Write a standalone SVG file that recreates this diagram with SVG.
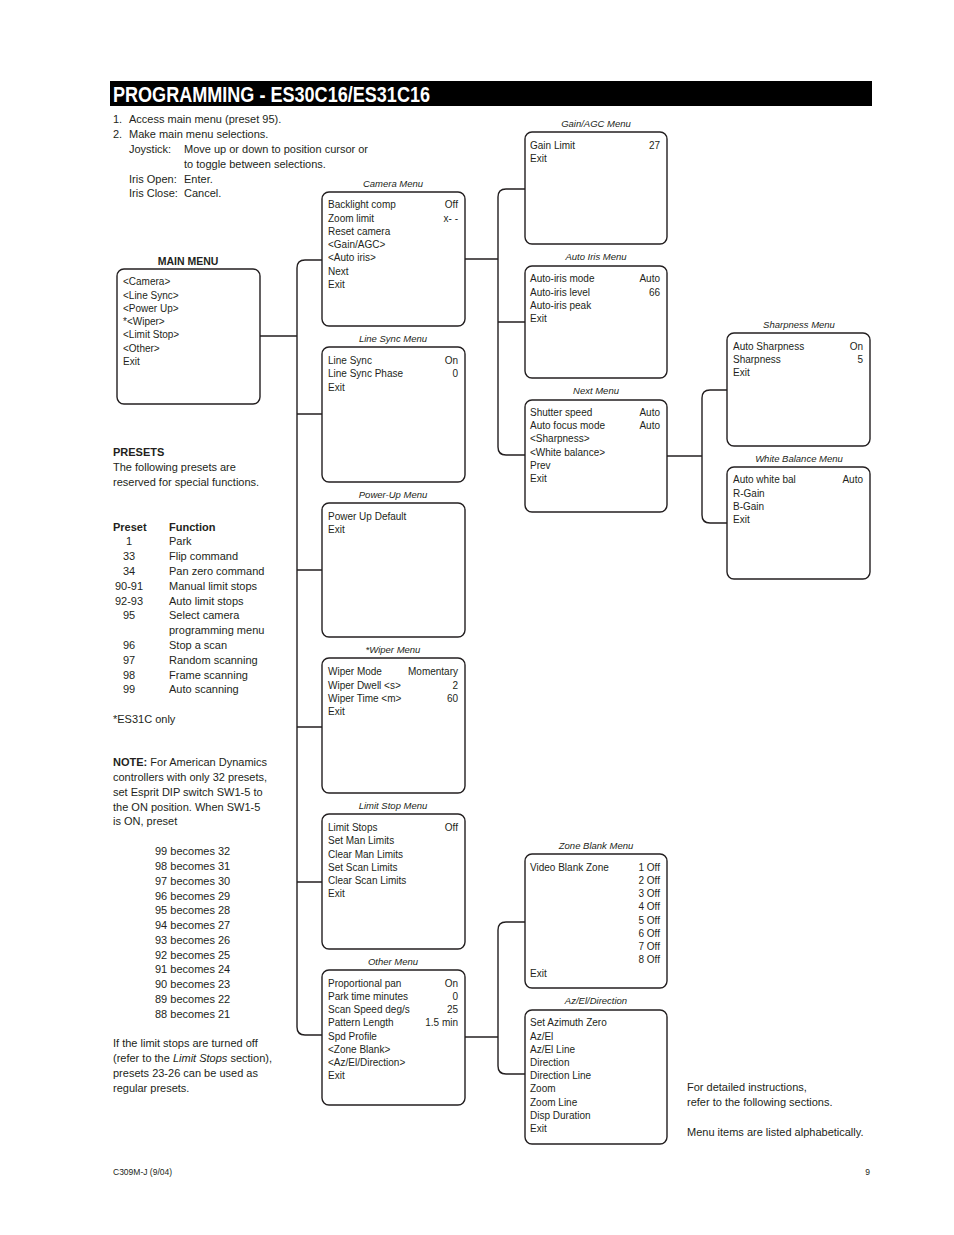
<svg xmlns="http://www.w3.org/2000/svg" width="954" height="1235" viewBox="0 0 954 1235">
<style>
text{font-family:"Liberation Sans",Arial,sans-serif;fill:#231f20}
.b{font-size:11px}
.bb{font-size:11px;font-weight:bold}
.pn{font-size:11px;text-anchor:middle}
.m{font-size:10px}
.r{font-size:10px;text-anchor:end}
.lbl{font-size:9.5px;font-style:italic;text-anchor:middle}
.box{fill:#fff;stroke:#231f20;stroke-width:1.4}
.con{fill:none;stroke:#231f20;stroke-width:1.4}
.ft{font-size:8.5px}
</style>
<rect width="954" height="1235" fill="#fff"/>
<g id="title">
<rect x="110" y="81" width="762" height="25" fill="#000"/>
<text x="113" y="102" style="font-size:22px;font-weight:bold;fill:#fff" textLength="317" lengthAdjust="spacingAndGlyphs">PROGRAMMING - ES30C16/ES31C16</text>
</g>
<g id="instructions">
<text class="b" x="113" y="123">1.</text><text class="b" x="129" y="123">Access main menu (preset 95).</text>
<text class="b" x="113" y="138">2.</text><text class="b" x="129" y="138">Make main menu selections.</text>
<text class="b" x="129" y="153">Joystick:</text><text class="b" x="184" y="153">Move up or down to position cursor or</text>
<text class="b" x="184" y="168">to toggle between selections.</text>
<text class="b" x="129" y="183">Iris Open:</text><text class="b" x="184" y="183">Enter.</text>
<text class="b" x="129" y="197">Iris Close:</text><text class="b" x="184" y="197">Cancel.</text>
</g>
<g id="connectors">
<path class="con" d="M322,260 H305 Q297,260 297,268 V1027 Q297,1035 305,1035 H322"/>
<path class="con" d="M260,336 H297 M297,414 H322 M297,570 H322 M297,727 H322 M297,882 H322"/>
<path class="con" d="M525,189 H506 Q498,189 498,197 V447 Q498,455 506,455 H525"/>
<path class="con" d="M465,259 H498 M498,322 H525"/>
<path class="con" d="M728,390 H710 Q702,390 702,398 V515 Q702,523 710,523 H728"/>
<path class="con" d="M667,456 H702"/>
<path class="con" d="M525,922 H506 Q498,922 498,930 V1066 Q498,1074 506,1074 H525"/>
<path class="con" d="M465,1037 H498"/>
</g>
<g id="main-menu">
<text x="188" y="265" style="font-size:10.5px;font-weight:bold;text-anchor:middle">MAIN MENU</text>
<rect class="box" x="117" y="269" width="143" height="135" rx="7"/>
<text class="m" x="123" y="285">&lt;Camera&gt;</text>
<text class="m" x="123" y="299">&lt;Line Sync&gt;</text>
<text class="m" x="123" y="312">&lt;Power Up&gt;</text>
<text class="m" x="123" y="325">*&lt;Wiper&gt;</text>
<text class="m" x="123" y="338">&lt;Limit Stop&gt;</text>
<text class="m" x="123" y="352">&lt;Other&gt;</text>
<text class="m" x="123" y="365">Exit</text>
</g>
<g id="camera-menu">
<text class="lbl" x="393" y="187">Camera Menu</text>
<rect class="box" x="322" y="192" width="143" height="134" rx="7"/>
<text class="m" x="328" y="208">Backlight comp</text><text class="r" x="458" y="208">Off</text>
<text class="m" x="328" y="222">Zoom limit</text><text class="r" x="458" y="222">x- -</text>
<text class="m" x="328" y="235">Reset camera</text>
<text class="m" x="328" y="248">&lt;Gain/AGC&gt;</text>
<text class="m" x="328" y="261">&lt;Auto iris&gt;</text>
<text class="m" x="328" y="275">Next</text>
<text class="m" x="328" y="288">Exit</text>
</g>
<g id="line-sync-menu">
<text class="lbl" x="393" y="342">Line Sync Menu</text>
<rect class="box" x="322" y="347" width="143" height="135" rx="7"/>
<text class="m" x="328" y="364">Line Sync</text><text class="r" x="458" y="364">On</text>
<text class="m" x="328" y="377">Line Sync Phase</text><text class="r" x="458" y="377">0</text>
<text class="m" x="328" y="391">Exit</text>
</g>
<g id="power-up-menu">
<text class="lbl" x="393" y="498">Power-Up Menu</text>
<rect class="box" x="322" y="503" width="143" height="134" rx="7"/>
<text class="m" x="328" y="520">Power Up Default</text>
<text class="m" x="328" y="533">Exit</text>
</g>
<g id="wiper-menu">
<text class="lbl" x="393" y="653">*Wiper Menu</text>
<rect class="box" x="322" y="658" width="143" height="135" rx="7"/>
<text class="m" x="328" y="675">Wiper Mode</text><text class="r" x="458" y="675">Momentary</text>
<text class="m" x="328" y="689">Wiper Dwell &lt;s&gt;</text><text class="r" x="458" y="689">2</text>
<text class="m" x="328" y="702">Wiper Time &lt;m&gt;</text><text class="r" x="458" y="702">60</text>
<text class="m" x="328" y="715">Exit</text>
</g>
<g id="limit-stop-menu">
<text class="lbl" x="393" y="809">Limit Stop Menu</text>
<rect class="box" x="322" y="814" width="143" height="135" rx="7"/>
<text class="m" x="328" y="831">Limit Stops</text><text class="r" x="458" y="831">Off</text>
<text class="m" x="328" y="844">Set Man Limits</text>
<text class="m" x="328" y="858">Clear Man Limits</text>
<text class="m" x="328" y="871">Set Scan Limits</text>
<text class="m" x="328" y="884">Clear Scan Limits</text>
<text class="m" x="328" y="897">Exit</text>
</g>
<g id="other-menu">
<text class="lbl" x="393" y="965">Other Menu</text>
<rect class="box" x="322" y="970" width="143" height="135" rx="7"/>
<text class="m" x="328" y="987">Proportional pan</text><text class="r" x="458" y="987">On</text>
<text class="m" x="328" y="1000">Park time minutes</text><text class="r" x="458" y="1000">0</text>
<text class="m" x="328" y="1013">Scan Speed deg/s</text><text class="r" x="458" y="1013">25</text>
<text class="m" x="328" y="1026">Pattern Length</text><text class="r" x="458" y="1026">1.5 min</text>
<text class="m" x="328" y="1040">Spd Profile</text>
<text class="m" x="328" y="1053">&lt;Zone Blank&gt;</text>
<text class="m" x="328" y="1066">&lt;Az/El/Direction&gt;</text>
<text class="m" x="328" y="1079">Exit</text>
</g>
<g id="gain-agc-menu">
<text class="lbl" x="596" y="127">Gain/AGC Menu</text>
<rect class="box" x="525" y="132" width="142" height="112" rx="7"/>
<text class="m" x="530" y="149">Gain Limit</text><text class="r" x="660" y="149">27</text>
<text class="m" x="530" y="162">Exit</text>
</g>
<g id="auto-iris-menu">
<text class="lbl" x="596" y="260">Auto Iris Menu</text>
<rect class="box" x="525" y="266" width="142" height="112" rx="7"/>
<text class="m" x="530" y="282">Auto-iris mode</text><text class="r" x="660" y="282">Auto</text>
<text class="m" x="530" y="296">Auto-iris level</text><text class="r" x="660" y="296">66</text>
<text class="m" x="530" y="309">Auto-iris peak</text>
<text class="m" x="530" y="322">Exit</text>
</g>
<g id="next-menu">
<text class="lbl" x="596" y="394">Next Menu</text>
<rect class="box" x="525" y="400" width="142" height="112" rx="7"/>
<text class="m" x="530" y="416">Shutter speed</text><text class="r" x="660" y="416">Auto</text>
<text class="m" x="530" y="429">Auto focus mode</text><text class="r" x="660" y="429">Auto</text>
<text class="m" x="530" y="442">&lt;Sharpness&gt;</text>
<text class="m" x="530" y="456">&lt;White balance&gt;</text>
<text class="m" x="530" y="469">Prev</text>
<text class="m" x="530" y="482">Exit</text>
</g>
<g id="sharpness-menu">
<text class="lbl" x="799" y="328">Sharpness Menu</text>
<rect class="box" x="727" y="333" width="143" height="113" rx="7"/>
<text class="m" x="733" y="350">Auto Sharpness</text><text class="r" x="863" y="350">On</text>
<text class="m" x="733" y="363">Sharpness</text><text class="r" x="863" y="363">5</text>
<text class="m" x="733" y="376">Exit</text>
</g>
<g id="white-balance-menu">
<text class="lbl" x="799" y="462">White Balance Menu</text>
<rect class="box" x="727" y="467" width="143" height="112" rx="7"/>
<text class="m" x="733" y="483">Auto white bal</text><text class="r" x="863" y="483">Auto</text>
<text class="m" x="733" y="497">R-Gain</text>
<text class="m" x="733" y="510">B-Gain</text>
<text class="m" x="733" y="523">Exit</text>
</g>
<g id="zone-blank-menu">
<text class="lbl" x="596" y="849">Zone Blank Menu</text>
<rect class="box" x="525" y="854" width="142" height="134" rx="7"/>
<text class="m" x="530" y="871">Video Blank Zone</text>
<text class="r" x="660" y="871">1 Off</text>
<text class="r" x="660" y="884">2 Off</text>
<text class="r" x="660" y="897">3 Off</text>
<text class="r" x="660" y="910">4 Off</text>
<text class="r" x="660" y="924">5 Off</text>
<text class="r" x="660" y="937">6 Off</text>
<text class="r" x="660" y="950">7 Off</text>
<text class="r" x="660" y="963">8 Off</text>
<text class="m" x="530" y="977">Exit</text>
</g>
<g id="az-el-direction-menu">
<text class="lbl" x="596" y="1004">Az/El/Direction</text>
<rect class="box" x="525" y="1010" width="142" height="134" rx="7"/>
<text class="m" x="530" y="1026">Set Azimuth Zero</text>
<text class="m" x="530" y="1040">Az/El</text>
<text class="m" x="530" y="1053">Az/El Line</text>
<text class="m" x="530" y="1066">Direction</text>
<text class="m" x="530" y="1079">Direction Line</text>
<text class="m" x="530" y="1092">Zoom</text>
<text class="m" x="530" y="1106">Zoom Line</text>
<text class="m" x="530" y="1119">Disp Duration</text>
<text class="m" x="530" y="1132">Exit</text>
</g>
<g id="presets">
<text class="bb" x="113" y="456">PRESETS</text>
<text class="b" x="113" y="471">The following presets are</text>
<text class="b" x="113" y="486">reserved for special functions.</text>
<text class="bb" x="113" y="531">Preset</text><text class="bb" x="169" y="531">Function</text>
<text class="pn" x="129" y="545">1</text>
<text class="pn" x="129" y="560">33</text>
<text class="pn" x="129" y="575">34</text>
<text class="pn" x="129" y="590">90-91</text>
<text class="pn" x="129" y="605">92-93</text>
<text class="pn" x="129" y="619">95</text>
<text class="pn" x="129" y="649">96</text>
<text class="pn" x="129" y="664">97</text>
<text class="pn" x="129" y="679">98</text>
<text class="pn" x="129" y="693">99</text>
<text class="b" x="169" y="545">Park</text>
<text class="b" x="169" y="560">Flip command</text>
<text class="b" x="169" y="575">Pan zero command</text>
<text class="b" x="169" y="590">Manual limit stops</text>
<text class="b" x="169" y="605">Auto limit stops</text>
<text class="b" x="169" y="619">Select camera</text>
<text class="b" x="169" y="634">programming menu</text>
<text class="b" x="169" y="649">Stop a scan</text>
<text class="b" x="169" y="664">Random scanning</text>
<text class="b" x="169" y="679">Frame scanning</text>
<text class="b" x="169" y="693">Auto scanning</text>
<text class="b" x="113" y="723">*ES31C only</text>
</g>
<g id="note">
<text class="b" x="113" y="766"><tspan font-weight="bold">NOTE:</tspan>  For American Dynamics</text>
<text class="b" x="113" y="781">controllers with only 32 presets,</text>
<text class="b" x="113" y="796">set Esprit DIP switch SW1-5 to</text>
<text class="b" x="113" y="811">the ON position. When SW1-5</text>
<text class="b" x="113" y="825">is ON, preset</text>
<text class="b" x="155" y="855">99 becomes 32</text>
<text class="b" x="155" y="870">98 becomes 31</text>
<text class="b" x="155" y="885">97 becomes 30</text>
<text class="b" x="155" y="900">96 becomes 29</text>
<text class="b" x="155" y="914">95 becomes 28</text>
<text class="b" x="155" y="929">94 becomes 27</text>
<text class="b" x="155" y="944">93 becomes 26</text>
<text class="b" x="155" y="959">92 becomes 25</text>
<text class="b" x="155" y="973">91 becomes 24</text>
<text class="b" x="155" y="988">90 becomes 23</text>
<text class="b" x="155" y="1003">89 becomes 22</text>
<text class="b" x="155" y="1018">88 becomes 21</text>
<text class="b" x="113" y="1047">If the limit stops are turned off</text>
<text class="b" x="113" y="1062">(refer to the <tspan font-style="italic">Limit Stops</tspan> section),</text>
<text class="b" x="113" y="1077">presets 23-26 can be used as</text>
<text class="b" x="113" y="1092">regular presets.</text>
</g>
<g id="side-note">
<text class="b" x="687" y="1091">For detailed instructions,</text>
<text class="b" x="687" y="1106">refer to the following sections.</text>
<text class="b" x="687" y="1136">Menu items are listed alphabetically.</text>
</g>
<g id="footer">
<text class="ft" x="113" y="1175">C309M-J (9/04)</text>
<text class="ft" x="870" y="1175" text-anchor="end">9</text>
</g>
</svg>
